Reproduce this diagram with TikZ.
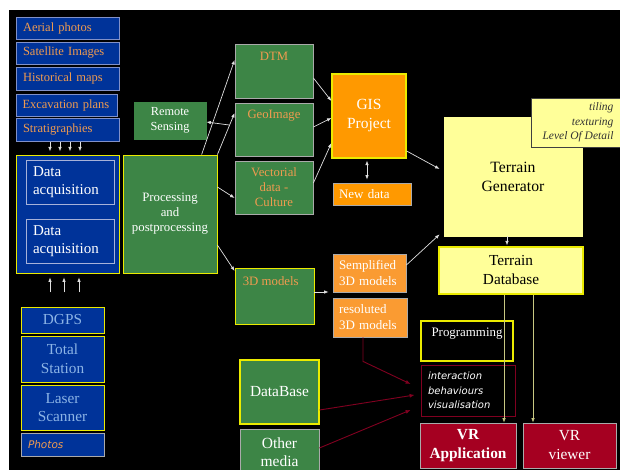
\documentclass[tikz,border=0pt]{standalone}
\usepackage{fontspec}
\setmainfont{Liberation Serif}
\newfontfamily\itsans{DejaVu Sans}
\usetikzlibrary{calc,arrows.meta}
\newcommand\fsz[2]{\fontsize{#1}{#2}\selectfont}
\definecolor{bgblue}{RGB}{0,51,153}
\definecolor{bxgreen}{RGB}{61,133,70}
\definecolor{txtorange}{RGB}{240,155,80}
\definecolor{gisorange}{RGB}{255,153,0}
\definecolor{lorange}{RGB}{250,155,50}
\definecolor{lyellow}{RGB}{255,255,153}
\definecolor{byellow}{RGB}{235,235,0}
\definecolor{dred}{RGB}{165,0,33}
\definecolor{lred}{RGB}{128,0,32}
\definecolor{lblue}{RGB}{140,180,230}
\definecolor{bgray}{RGB}{170,170,170}
\definecolor{srcborder}{RGB}{130,145,200}
\definecolor{ylline}{RGB}{200,200,130}
\tikzset{
  box/.style 2 args={rectangle, minimum width=#1pt, minimum height=#2pt, inner sep=0pt, line width=0.8pt, align=center},
  src/.style={draw=srcborder, fill=bgblue, text=txtorange, font=\fsz{12.5}{15}, align=left, text width=89pt},
  meas/.style={draw=byellow, fill=bgblue, text=lblue, font=\fsz{15.3}{18.5}},
  gbox/.style={draw=bgray, fill=bxgreen},
  conn/.style={draw=white!88!black, line width=0.7pt, -{Latex[length=4.5pt,width=3.5pt]}},
  dconn/.style={draw=white!88!black, line width=0.7pt, {Latex[length=4.5pt,width=3.5pt]}-{Latex[length=4.5pt,width=3.5pt]}},
  yconn/.style={draw=ylline, line width=0.7pt, -{Latex[length=4.5pt,width=3.5pt]}},
  redc/.style={draw=lred, line width=0.9pt, -{Latex[length=5pt,width=4pt]}},
}
\begin{document}
\begin{tikzpicture}[x=1pt,y=-1pt]
\useasboundingbox (0,0) rectangle (620,470);
\fill[white] (0,0) rectangle (620,470);
\fill[black] (9,10) rectangle (620,470);

% source list
\node[box={103}{22}, src] (aerial) at (67.5,28) {Aerial photos};
\node[box={103}{22}, src] (sat) at (67.5,53) {Satellite Images};
\node[box={103}{23}, src] (hist) at (67.5,78.5) {Historical maps};
\node[box={101}{22}, src, text width=88pt] (exc) at (66.5,105) {Excavation plans};
\node[box={103}{23}, src] (strat) at (67.5,129.5) {Stratigraphies};

% data acquisition
\node[box={103}{118}, draw=byellow, fill=bgblue] (acq) at (67.5,214) {};
\node[box={88}{44}, draw=srcborder!70!white, fill=bgblue, text=white, font=\fsz{15}{18}, align=left, text width=74pt] (acqa) at (70,182) {Data\\acquisition};
\node[box={88}{44}, draw=srcborder!70!white, fill=bgblue, text=white, font=\fsz{15}{18}, align=left, text width=74pt] (acqb) at (70,241) {Data\\acquisition};

% processing
\node[box={94}{118}, draw=byellow, fill=bxgreen, text=white, font=\fsz{12.8}{15}] (proc) at (170,214) {Processing\\and\\postprocessing};
\node[box={72}{37}, draw=bxgreen, fill=bxgreen, text=white, font=\fsz{12.3}{15}] (remote) at (170,120.5) {Remote\\Sensing};

% measurement
\node[box={83}{26}, meas] (dgps) at (62.5,320) {DGPS};
\node[box={83}{46}, meas] (total) at (62.5,359) {Total\\Station};
\node[box={83}{45}, meas] (laser) at (62.5,407.5) {Laser\\Scanner};
\node[box={83}{23}, draw=bgray, fill=bgblue, text=txtorange, font=\itsans\itshape\fsz{10.5}{13}, align=left, text width=69pt] (photos) at (62.5,444.5) {Photos};

% products
\node[box={78}{54}, gbox, label={[anchor=north, inner sep=0pt, text=txtorange, font=\fsz{12.7}{15}, yshift=-8pt]north:DTM}] (dtm) at (274,71) {};
\node[box={78}{53}, gbox, label={[anchor=north, inner sep=0pt, text=txtorange, font=\fsz{12.7}{15}, yshift=-7.5pt]north:GeoImage}] (geo) at (274,129.5) {};
\node[box={78}{53}, gbox, text=txtorange, font=\fsz{12.7}{15}] (vect) at (274,187.5) {Vectorial\\data -\\Culture};
\node[box={79}{56}, draw=byellow, fill=bxgreen, label={[anchor=north west, inner sep=0pt, text=txtorange, font=\fsz{12.8}{15}, xshift=8pt, yshift=-9pt]north west:3D models}] (models3d) at (274.5,296) {};

% GIS
\node[box={74}{84}, draw=byellow, line width=1.2pt, fill=gisorange, text=white, font=\fsz{15.5}{19}] (gis) at (369,116) {GIS\\Project};
\node[box={78}{22}, draw=bgray, fill=gisorange, text=white, font=\fsz{13}{16}, align=left, text width=66pt] (newdata) at (372,194) {New data};

\node[box={73}{38}, draw=bgray, fill=lorange, text=white, font=\fsz{13}{16}, align=left, text width=61pt] (sempl) at (369.5,273) {Semplified\\3D models};
\node[box={74}{39}, draw=bgray, fill=lorange, text=white, font=\fsz{13}{16}, align=left, text width=62pt] (resol) at (370,317.5) {resoluted\\3D models};

% terrain
\node[box={138}{119}, draw=lyellow, fill=lyellow, text=black, font=\fsz{15.7}{19}] (tgen) at (513,176.5) {Terrain\\Generator};
\node[box={94}{49}, draw=black!75, fill=lyellow, text=black!80, font=\itshape\fsz{11.5}{14.5}, align=right] (tiling) at (578,122.5) {tiling\\texturing\\Level Of Detail};
\node[box={144}{47}, draw=byellow, line width=1.2pt, fill=lyellow, text=black, font=\fsz{15.3}{19}] (tdb) at (511,270.5) {Terrain\\Database};

% bottom
\node[box={79}{64}, draw=byellow, line width=1.2pt, fill=bxgreen, text=white, font=\fsz{15.4}{18.5}] (dbase) at (279.5,392) {DataBase};
\node[box={79}{46}, gbox, text=white, font=\fsz{15.5}{18.5}] (other) at (279.5,452) {Other\\media};
\node[box={92}{40}, draw=byellow, line width=1.2pt, fill=black, label={[anchor=north, inner sep=0pt, text=white, font=\fsz{12.9}{15}, yshift=-7.5pt]north:Programming}] (prog) at (467,341) {};
\node[box={94}{51}, draw=lred, text=white, font=\itsans\itshape\fsz{10}{14.5}, align=left, text width=80pt] (inter) at (468,390.5) {interaction\\behaviours\\visualisation};
\node[box={96}{45}, draw=bgray, fill=dred, text=white, font=\bfseries\fsz{15.4}{19}] (vrapp) at (468,445.5) {VR\\Application};
\node[box={93}{45}, draw=bgray, fill=dred, text=white, font=\fsz{15.4}{19}] (vrview) at (569.5,445.5) {VR\\viewer};

% connectors
\coordinate (geoin) at ($(geo.west)+(0,-16.5)$);
\draw[conn] ($(proc.north west)+(79,0)$) -- ($(dtm.west)+(0,-11)$);
\draw[conn] (proc.north east) -- (geoin);
\draw[conn] ($(proc.north east)!0.71!(geoin)$) -- ($(remote.east)+(0,1.5)$);
\draw[conn] ($(proc.east)+(0,-27)$) -- ($(vect.west)+(0,10.5)$);
\draw[conn] ($(proc.east)+(0,31)$) -- ($(models3d.west)+(0,-25)$);
\draw[conn] ($(dtm.east)+(0,7)$) -- ($(gis.west)+(0,-15)$);
\draw[conn] ($(geo.east)+(0,-2.5)$) -- ($(gis.west)+(0,2)$);
\draw[conn] ($(vect.east)+(0,-4.5)$) -- ($(gis.west)+(0,27)$);
\draw[dconn] ($(gis.south)+(-2,2)$) -- ($(newdata.north)+(-5,-3)$);
\draw[conn] ($(gis.east)+(0,35)$) -- ($(tgen.west)+(-4,-7.5)$);
\draw[conn] ($(sempl.east)+(0,-8)$) -- ($(tgen.south west)+(-4,-2)$);
\draw[conn] ($(models3d.east)+(0,-4)$) -- ($(sempl.west)+(-4,19)$);
\draw[conn] ($(tgen.south)+(-6,0)$) -- ($(tdb.north)+(-4,-1)$);
\draw[yconn] ($(tdb.south)+(-7,0)$) -- ($(vrapp.north)+(36,0)$);
\draw[yconn] ($(tdb.south)+(22,0)$) -- ($(vrview.north)+(-36.5,0)$);

\draw[redc] ($(resol.south)+(-7,0)$) -- ($(resol.south)+(-7,24)$) -- ($(inter.west)+(-10,-6.5)$);
\draw[redc] ($(dbase.east)+(0,18)$) -- ($(inter.west)+(-6,4.5)$);
\draw[redc] ($(other.east)+(0,-4)$) -- ($(inter.west)+(-10,19.5)$);

\foreach \d in {-17.5,-7.5,2.5,12.5}
  \draw[conn] ($(strat.south)+(\d,1)$) -- ($(strat.south)+(\d,10)$);
\foreach \d in {-17.5,-3.5,11.5}
  \draw[conn] ($(acq.south)+(\d,19)$) -- ($(acq.south)+(\d,4)$);
\end{tikzpicture}
\end{document}
